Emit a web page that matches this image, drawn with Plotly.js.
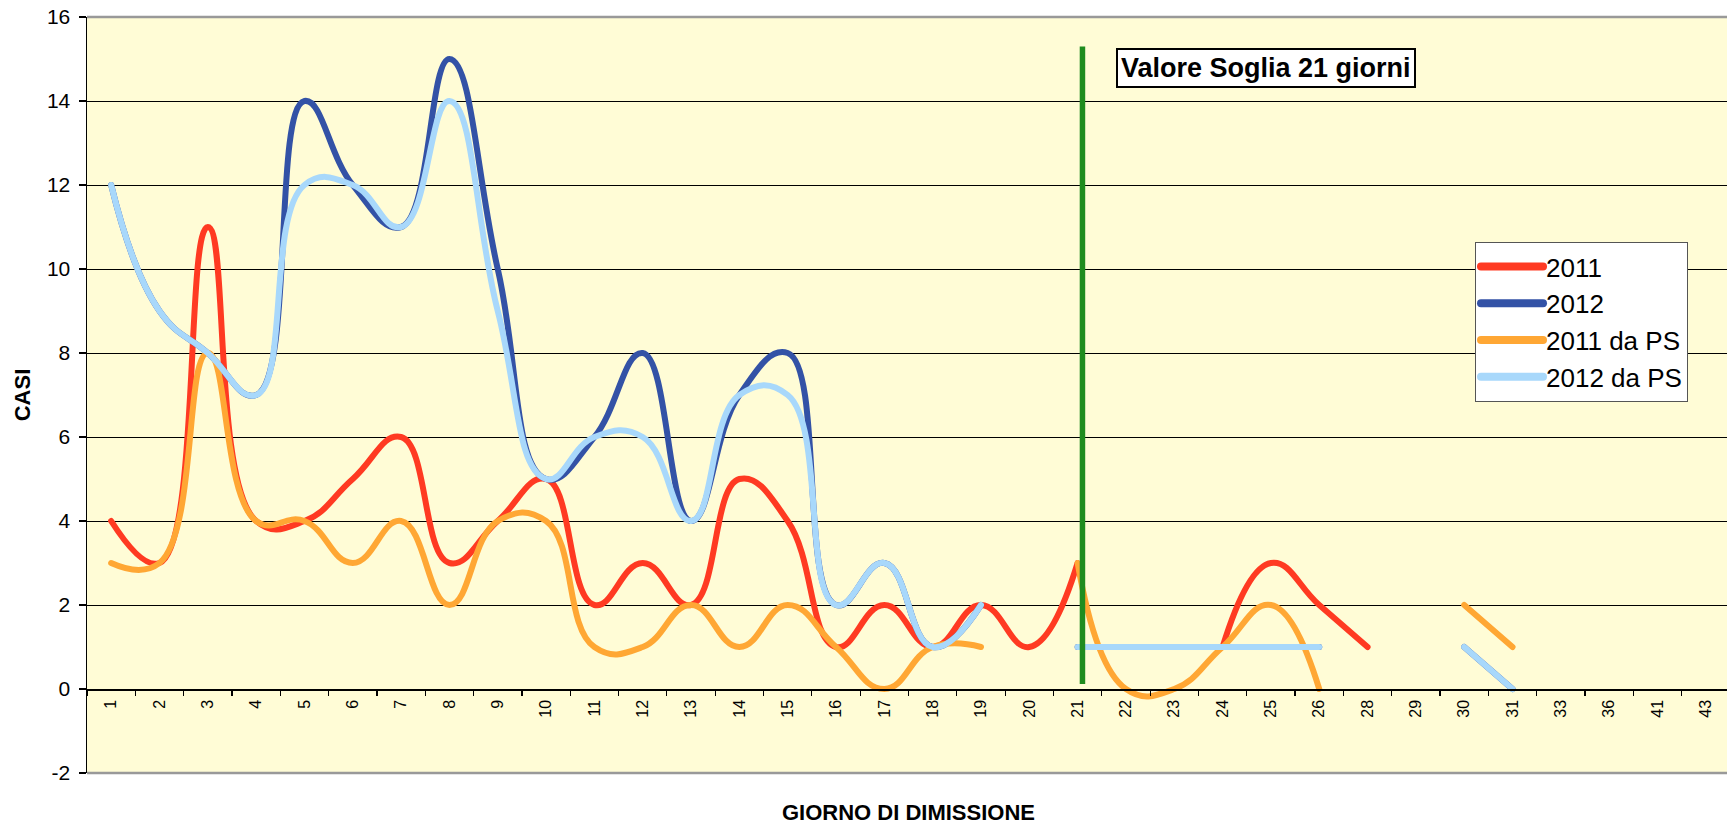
<!DOCTYPE html>
<html>
<head>
<meta charset="utf-8">
<script src="https://cdn.plot.ly/plotly-3.0.1.min.js"></script>
<style>
  html, body { margin: 0; padding: 0; background: #ffffff; overflow: hidden; }
  #chart { width: 1730px; height: 825px; }
</style>
</head>
<body>
<div id="chart"></div>
<script>
// Categories (giorno di dimissione)
const categories = ['1','2','3','4','5','6','7','8','9','10','11','12','13','14','15','16','17','18','19','20',
                    '21','22','23','24','25','26','28','29','30','31','33','36','41','43'];

// Series values (CASI)
const s2011   = [4, 3, 11, 4, 4, 5, 6, 3, 4, 5, 2, 3, 2, 5, 4, 1, 2, 1, 2, 1,
                 3, null, null, 1, 3, 2, 1, null, null, null, null, null, null, null];
const s2012   = [12, 9, 8, 7, 14, 12, 11, 15, 10, 5, 6, 8, 4, 7, 8, 2, 3, 1, 2, null,
                 1, 1, 1, 1, 1, 1, null, null, 1, 0, null, null, null, null];
const s2011PS = [3, 3, 8, 4, 4, 3, 4, 2, 4, 4, 1, 1, 2, 1, 2, 1, 0, 1, 1, null,
                 3, 0, 0, 1, 2, 0, null, null, 2, 1, null, null, null, null];
const s2012PS = [12, 9, 8, 7, 12, 12, 11, 14, 9, 5, 6, 6, 4, 7, 7, 2, 3, 1, 2, null,
                 1, 1, 1, 1, 1, 1, null, null, 1, 0, null, null, null, null];

const seriesNames  = ['2011', '2012', '2011 da PS', '2012 da PS'];
const seriesColors = ['#ff3a22', '#3352a6', '#ffa734', '#a8d8fb'];
const seriesData   = [s2011, s2012, s2011PS, s2012PS];

// Threshold marker
const thresholdDay = '21';
const thresholdLabel = 'Valore Soglia 21 giorni';
const thresholdSpan = [0.12, 15.3];

const yTicks = [-2, 0, 2, 4, 6, 8, 10, 12, 14, 16];

const FONT = '"Liberation Sans", Arial, sans-serif';

const traces = seriesData.map((vals, i) => ({
  type: 'scatter',
  mode: 'lines',
  x: categories,
  y: vals,
  name: seriesNames[i],
  line: { color: seriesColors[i], width: 6, shape: 'spline', smoothing: 1.3 },
  connectgaps: false,
  hoverinfo: 'x+y+name'
}));

const thrIdx = categories.indexOf(thresholdDay) + 0.1;

const layout = {
  width: 1730,
  height: 825,
  margin: { l: 87, r: 0, t: 17, b: 52 },
  paper_bgcolor: '#ffffff',
  plot_bgcolor: '#fffcd6',
  font: { family: FONT, color: '#000000' },
  showlegend: true,
  legend: {
    x: 0.8448, y: 0.7024, xanchor: 'left', yanchor: 'top',
    bgcolor: '#ffffff', bordercolor: '#555555', borderwidth: 1,
    font: { family: FONT, size: 26, color: '#000000' },
    itemwidth: 60,
    tracegroupgap: 0
  },
  xaxis: {
    type: 'category',
    categoryorder: 'array',
    categoryarray: categories,
    range: [-0.5, categories.length - 0.5],
    anchor: 'free',
    position: 2 / 18,
    showline: true, linecolor: '#000000', linewidth: 1.5,
    showgrid: false, zeroline: false,
    ticks: 'outside', ticklen: 5, tickcolor: '#000000', tickwidth: 1.2,
    tickson: 'boundaries',
    tickangle: -90,
    ticklabelstandoff: 3,
    tickfont: { family: FONT, size: 16, color: '#000000' },
    title: { text: 'GIORNO DI DIMISSIONE', font: { family: FONT, size: 22, color: '#000000', weight: 'bold' }, standoff: 90 },
    automargin: false,
    fixedrange: true
  },
  yaxis: {
    range: [-2, 16],
    tickvals: yTicks,
    ticktext: yTicks.map(String),
    showline: true, linecolor: '#000000', linewidth: 1.5,
    showgrid: true, gridcolor: '#000000', gridwidth: 1,
    zeroline: false,
    ticks: 'outside', ticklen: 7, tickcolor: '#000000', tickwidth: 1.2,
    ticklabelstandoff: 4,
    tickfont: { family: FONT, size: 21, color: '#000000' },
    title: { text: 'CASI', font: { family: FONT, size: 22, color: '#000000', weight: 'bold' }, standoff: 10 },
    automargin: false,
    fixedrange: true
  },
  shapes: [
    { type: 'line', xref: 'paper', yref: 'paper', x0: 0, x1: 1, y0: 1, y1: 1,
      line: { color: '#999999', width: 2.5 }, layer: 'above' },
    { type: 'line', xref: 'paper', yref: 'paper', x0: 0, x1: 1, y0: 0, y1: 0,
      line: { color: '#999999', width: 2.5 }, layer: 'above' },
    { type: 'line', xref: 'x', yref: 'y', x0: thrIdx, x1: thrIdx, y0: thresholdSpan[0], y1: thresholdSpan[1],
      line: { color: '#1f8c1f', width: 5.5 }, layer: 'above' }
  ],
  annotations: [
    { text: '<b>' + thresholdLabel + '</b>', xref: 'paper', yref: 'paper',
      x: 0.7176, y: 0.9332, xanchor: 'center', yanchor: 'middle', showarrow: false,
      font: { family: FONT, size: 27, color: '#000000' },
      bgcolor: '#ffffff', bordercolor: '#000000', borderwidth: 2, borderpad: 3 }
  ]
};

Plotly.newPlot('chart', traces, layout, { displayModeBar: false, staticPlot: true }).then(() => {
  document.querySelectorAll('.scatterlayer path.js-line').forEach(p => {
    p.style.strokeLinecap = 'round';
    p.style.strokeLinejoin = 'round';
  });
  document.querySelectorAll('.legend path.js-line').forEach(p => {
    p.setAttribute('d', 'M5,0h62');
    p.style.strokeLinecap = 'round';
    p.style.strokeWidth = '8px';
  });
});
</script>
</body>
</html>
